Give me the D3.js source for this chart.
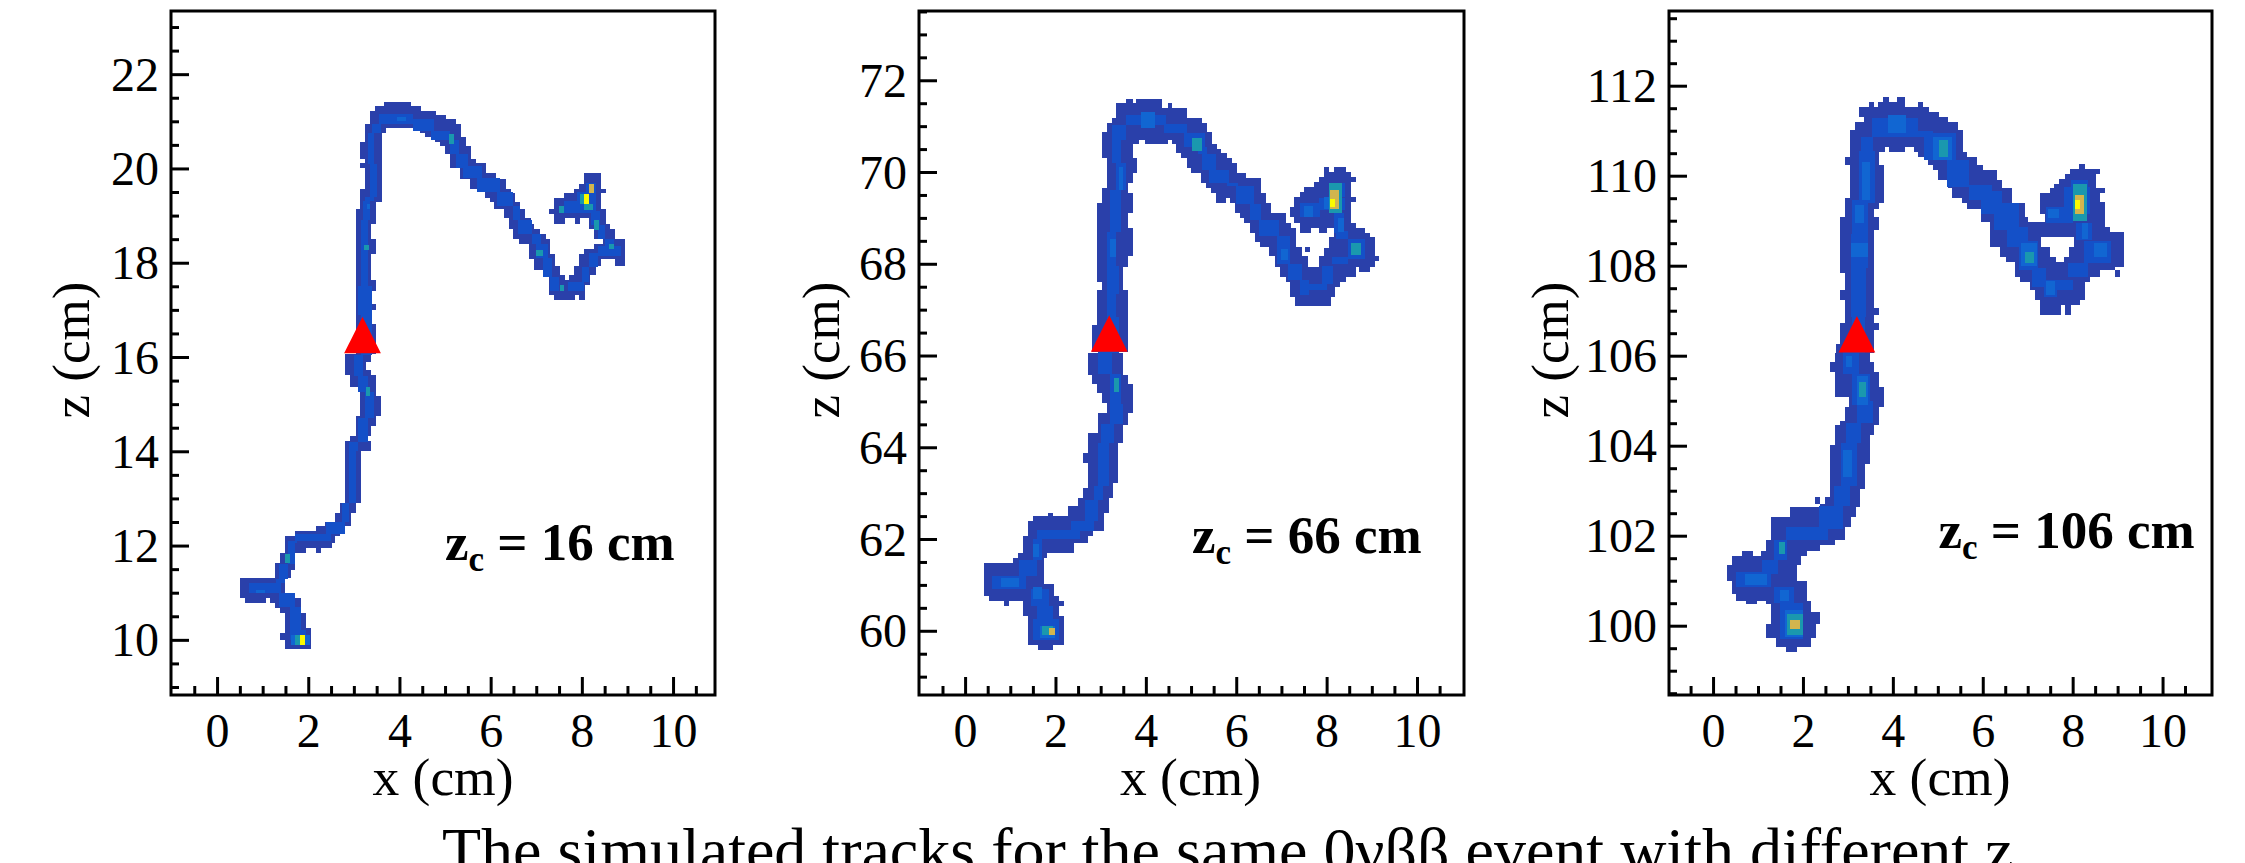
<!DOCTYPE html>
<html>
<head>
<meta charset="utf-8">
<title>Simulated tracks</title>
<script src="https://cdn.jsdelivr.net/npm/d3@7"></script>
<style>
	html, body { margin: 0; padding: 0; background: #fff; overflow: hidden; }
	svg { display: block; }
	text { font-family: "Liberation Serif", serif; fill: #000; }
	.domain { display: none; }
	.tick line { stroke: #000; stroke-width: 3; }
</style>
</head>
<body>
<svg id="chart" width="2245" height="863"></svg>
<script>
'use strict';

//Tick values on the x axis, shared by all panels
var xMajor = [0, 2, 4, 6, 8, 10];
var xMinor = [-0.5, 0.5, 1, 1.5, 2.5, 3, 3.5, 4.5, 5, 5.5, 6.5, 7, 7.5, 8.5, 9, 9.5, 10.5];

//Tick values on the z axis of each panel
var zMajor16 = [10, 12, 14, 16, 18, 20, 22];
var zMajor66 = [60, 62, 64, 66, 68, 70, 72];
var zMajor106 = [100, 102, 104, 106, 108, 110, 112];

//Axis ranges
var xRange16 = [-1.01, 10.92];
var xRange66 = [-1.02, 11.04];
var xRange106 = [-0.98, 11.1];
var zRange16 = [8.83, 23.34];
var zRange66 = [58.6, 73.51];
var zRange106 = [98.46, 113.66];

//Labels
var zcLabels = ['16', '66', '106'];
var caption = 'The simulated tracks for the same 0νββ event with different z';

//Position of the red triangle in each panel (x, z at the base)
var vertex16 = [3.19, 16.08];
var vertex66 = [3.19, 66.08];
var vertex106 = [3.2, 106.07];

//Track cells: [zTop, zBottom, xLeft, xRight], lowest charge
var low16 = [
	[21.41,21.32,3.67,4.25],[21.32,21.22,3.46,4.47],[21.22,21.13,3.36,4.80],[21.13,21.04,3.36,5.02],
	[21.04,20.95,3.36,5.24],[20.95,20.86,3.25,5.34],[20.86,20.76,3.25,3.71],[20.86,20.76,4.45,5.34],
	[20.76,20.67,3.25,3.61],[20.76,20.67,4.56,5.34],[20.67,20.56,3.25,3.61],[20.67,20.56,4.78,5.45],
	[20.56,20.47,3.14,3.61],[20.56,20.47,4.89,5.45],[20.47,20.30,3.14,3.61],[20.47,20.30,4.99,5.56],
	[20.30,20.21,3.14,3.61],[20.30,20.21,5.10,5.56],[20.21,20.12,3.25,3.61],[20.21,20.12,5.10,5.68],
	[20.12,20.00,3.14,3.61],[20.12,20.00,5.10,5.90],[20.00,19.91,3.25,3.61],[20.00,19.91,5.33,5.90],
	[19.91,19.78,3.25,3.61],[19.91,19.78,5.33,6.12],[19.78,19.57,3.25,3.61],[19.78,19.57,5.54,6.33],
	[19.57,19.48,3.14,3.61],[19.57,19.48,5.87,6.44],[19.48,19.29,3.14,3.61],[19.48,19.38,5.87,6.54],
	[19.38,19.29,5.98,6.54],[19.29,19.15,3.14,3.48],[19.29,19.15,6.08,6.65],[19.15,18.94,3.04,3.48],
	[19.15,18.94,6.29,6.75],[18.94,18.83,3.04,3.48],[18.94,18.83,6.40,6.88],[18.83,18.72,3.04,3.38],
	[18.83,18.72,6.40,6.96],[18.72,18.62,3.04,3.38],[18.72,18.62,6.50,7.09],[18.62,18.51,3.04,3.38],
	[18.62,18.51,6.50,7.21],[18.51,18.40,3.04,3.48],[18.51,18.40,6.63,7.30],[18.40,18.19,3.04,3.48],
	[18.40,18.19,6.84,7.30],[18.19,17.63,3.04,3.38],[18.19,18.07,6.84,7.41],[18.07,17.94,6.96,7.41],
	[17.94,17.84,6.96,7.51],[17.84,17.73,7.17,7.51],[17.73,17.63,7.29,7.63],
	[19.91,19.68,8.05,8.41],[19.68,19.57,7.94,8.41],[19.57,19.48,7.83,8.52],[19.48,19.38,7.61,8.41],
	[19.38,19.15,7.40,8.41],[19.15,19.04,7.29,8.52],[19.04,18.94,7.40,8.52],[18.94,18.83,7.40,7.63],
	[18.94,18.83,7.84,7.97],[18.94,18.83,8.16,8.52],[18.83,18.72,8.16,8.62],[18.72,18.51,8.26,8.72],
	[18.51,18.40,8.47,8.95],[18.40,18.30,8.26,8.95],[18.30,18.19,8.05,8.95],[18.19,18.07,7.94,8.95],
	[18.07,17.94,7.94,8.41],[18.07,17.94,8.72,8.95],[17.94,17.73,7.83,8.31],[17.73,17.63,7.72,8.18],
	[17.63,17.52,7.29,8.18],[17.52,17.31,7.29,8.07],[17.31,17.20,7.40,7.84],[17.31,17.20,7.94,8.07],
	[17.63,17.41,3.04,3.48],[17.41,17.13,3.04,3.38],[17.13,16.99,3.04,3.48],[16.99,16.71,3.04,3.38],
	[16.71,16.07,3.04,3.48],[16.07,15.89,2.81,3.38],[15.89,15.72,2.81,3.27],[15.72,15.61,2.81,3.38],
	[15.61,15.36,2.92,3.48],[15.36,15.18,3.14,3.48],[15.18,14.83,3.14,3.59],[14.83,14.74,3.14,3.59],
	[14.74,14.53,3.04,3.48],[14.53,14.32,3.04,3.38],[14.32,14.21,2.92,3.27],[14.21,14.00,2.81,3.38],
	[14.00,12.90,2.81,3.16],[12.90,12.69,2.70,3.04],[12.69,12.51,2.59,2.94],[12.51,12.41,2.37,2.94],
	[12.41,12.30,2.16,2.81],[12.30,12.20,1.72,2.70],[12.20,12.05,1.50,2.59],[12.05,11.95,1.50,2.51],
	[11.95,11.84,1.50,1.95],[11.95,11.84,2.16,2.27],[11.84,11.63,1.38,1.72],[11.63,11.49,1.28,1.72],
	[11.49,11.31,1.28,1.62],[11.31,10.99,0.51,1.50],[10.99,10.89,0.51,1.62],[10.89,10.78,0.62,1.07],
	[10.89,10.78,1.17,1.85],[10.78,10.67,1.28,1.85],[10.67,10.57,1.38,1.85],[10.57,10.25,1.50,1.95],
	[10.25,10.14,1.50,2.06],[10.14,10.00,1.38,2.06],[10.00,9.80,1.50,2.06]
];
var low66 = [
	[71.60,71.50,3.57,3.72],[71.60,71.50,3.79,4.36],[71.50,71.39,3.35,4.36],[71.50,71.39,4.49,4.57],
	[71.39,71.17,3.35,4.91],[71.17,71.06,3.24,5.25],[71.06,70.88,3.13,5.36],[70.88,70.70,3.02,5.46],
	[70.70,70.60,3.02,3.85],[70.70,70.60,3.98,4.49],[70.70,70.60,4.57,5.46],[70.60,70.50,3.02,3.71],
	[70.60,70.50,4.67,5.57],[70.50,70.41,3.02,3.71],[70.50,70.41,4.67,5.67],[70.41,70.30,3.02,3.71],
	[70.41,70.30,4.78,5.80],[70.30,70.19,3.13,3.81],[70.30,70.19,4.91,5.91],[70.19,70.08,3.13,3.81],
	[70.19,70.08,4.91,6.01],[70.08,69.97,3.13,3.81],[70.08,69.97,5.00,6.01],[69.97,69.86,3.13,3.71],
	[69.97,69.86,5.21,6.22],[69.86,69.75,3.13,3.71],[69.86,69.75,5.21,6.55],[69.75,69.65,3.13,3.61],
	[69.75,69.65,5.34,6.55],[69.65,69.54,3.02,3.61],[69.65,69.54,5.44,6.55],[69.54,69.43,3.02,3.71],
	[69.54,69.43,5.55,6.65],[69.43,69.32,3.02,3.71],[69.43,69.32,5.55,5.77],[69.43,69.32,5.87,6.65],
	[69.32,69.10,2.92,3.71],[69.32,69.10,5.97,6.76],[69.10,68.99,2.92,3.61],[69.10,68.99,6.08,7.10],
	[68.99,68.88,2.92,3.61],[68.99,68.88,6.18,7.10],[68.88,68.77,2.92,3.61],[68.88,68.77,6.31,7.21],
	[68.77,68.66,2.92,3.71],[68.77,68.66,6.31,7.32],[68.66,68.48,2.92,3.71],[68.66,68.48,6.42,7.32],
	[68.48,68.37,2.92,3.71],[68.48,68.37,6.52,7.32],[68.37,68.16,2.92,3.71],[68.37,68.16,6.73,7.45],
	[68.16,67.94,2.92,3.61],[68.16,67.94,6.86,7.58],
	[70.10,70.00,7.94,8.06],[70.10,70.00,8.17,8.42],[70.00,69.89,7.94,8.54],[69.89,69.78,7.83,8.64],
	[69.78,69.67,7.71,8.54],[69.67,69.56,7.50,8.54],[69.56,69.45,7.40,8.54],[69.45,69.34,7.28,8.64],
	[69.34,69.23,7.28,8.54],[69.23,69.01,7.18,8.54],[69.01,68.88,7.28,8.54],[68.88,68.77,7.40,8.64],
	[68.77,68.68,7.40,7.65],[68.77,68.68,7.83,8.00],[68.77,68.68,8.17,8.85],[68.68,68.59,8.17,8.96],
	[68.59,68.34,8.06,9.06],[68.34,68.16,7.94,9.06],[68.16,68.05,7.83,9.17],[68.05,67.94,7.83,9.06],
	[68.37,68.26,7.52,7.64],[67.94,67.83,6.97,8.64],[67.94,67.83,8.72,8.96],[67.83,67.72,6.97,8.64],
	[67.72,67.61,7.10,8.42],[67.61,67.50,7.20,8.30],[67.50,67.28,7.20,8.19],[67.28,67.07,7.30,8.09],
	[67.94,67.61,2.92,3.50],[67.61,67.43,3.02,3.50],[67.43,67.10,2.92,3.61],[67.10,66.67,2.92,3.61],
	[66.67,66.08,2.81,3.61],[66.05,65.58,2.71,3.50],[65.58,65.39,2.81,3.61],[65.39,65.18,2.92,3.71],
	[65.18,64.96,3.02,3.71],[64.96,64.75,3.15,3.71],[64.75,64.49,2.93,3.61],[64.49,64.31,2.93,3.50],
	[64.31,64.09,2.71,3.50],[64.09,63.88,2.71,3.39],[63.88,63.66,2.60,3.39],[63.66,63.22,2.71,3.39],
	[63.22,63.11,2.71,3.28],[63.11,62.90,2.60,3.28],[62.90,62.71,2.49,3.18],[62.71,62.57,2.27,3.18],
	[62.57,62.50,1.83,1.95],[62.57,62.50,2.27,3.07],[62.50,62.39,1.50,3.07],[62.39,62.17,1.39,3.07],
	[62.17,62.06,1.39,2.84],[62.06,61.91,1.28,2.73],[61.91,61.70,1.28,2.41],[61.70,61.59,1.17,1.82],
	[61.59,61.48,1.06,1.74],[61.48,61.01,0.41,1.74],[61.01,60.75,0.41,1.96],[60.75,60.64,0.52,2.07],
	[60.64,60.53,0.85,0.97],[60.64,60.53,1.28,2.18],[60.53,60.32,1.28,2.07],[60.32,59.70,1.39,2.18],
	[59.70,59.59,1.61,1.95]
];
var low106 = [
	[111.76,111.64,3.79,3.91],[111.76,111.64,4.10,4.26],[111.64,111.53,3.46,3.59],[111.64,111.53,3.68,4.26],
	[111.64,111.53,4.55,4.68],[111.53,111.42,3.25,4.81],[111.42,111.31,3.25,5.02],[111.31,111.20,3.36,5.23],
	[111.20,111.01,3.15,5.45],[111.01,110.64,3.04,5.56],[110.64,110.53,3.04,3.83],[110.64,110.53,3.92,4.26],
	[110.64,110.53,4.47,5.56],[110.53,110.42,3.04,3.70],[110.53,110.42,4.55,5.66],[110.42,110.24,2.94,3.70],
	[110.42,110.24,4.78,5.87],[110.24,110.13,3.04,3.81],[110.24,110.13,4.89,6.00],[110.13,109.90,3.04,3.81],
	[110.13,109.90,5.00,6.31],[109.90,109.72,3.04,3.81],[109.90,109.72,5.22,6.43],[109.72,109.50,3.04,3.81],
	[109.72,109.50,5.32,6.64],[109.50,109.39,2.94,3.81],[109.50,109.39,5.53,6.64],[109.39,109.27,2.94,3.70],
	[109.39,109.27,5.64,6.94],[109.27,109.09,2.94,3.59],[109.27,109.09,5.97,6.94],[109.09,108.98,5.97,7.00],
	[110.25,110.15,8.15,8.27],[110.15,110.04,7.93,8.60],[110.04,109.93,7.83,8.51],[109.93,109.81,7.70,8.51],
	[109.81,109.72,7.59,8.51],[109.72,109.61,7.49,8.72],[109.61,109.41,7.28,8.60],[109.41,109.16,7.28,8.72],
	[109.16,108.98,7.39,8.72],[108.98,108.87,6.17,8.72],[108.87,108.76,6.17,8.83],[108.76,108.64,6.17,9.15],
	[108.64,108.42,6.17,7.30],[108.64,108.42,8.04,9.15],[108.42,108.20,6.38,7.49],[108.42,108.20,7.91,9.15],
	[108.20,108.09,6.51,7.62],[108.20,108.09,7.81,9.15],[108.09,107.98,6.72,9.15],[107.98,107.90,6.72,8.94],
	[107.90,107.76,6.72,8.60],[107.90,107.76,8.94,9.05],[107.76,107.64,6.83,8.38],[107.64,107.46,7.06,8.27],
	[107.46,107.24,7.17,8.27],[107.24,107.13,7.28,8.17],[107.13,106.90,7.28,7.74],[107.13,106.90,7.83,7.96],
	[109.09,108.79,2.83,3.70],[108.79,107.83,2.83,3.59],[107.83,107.46,2.94,3.59],[107.46,107.24,2.83,3.59],
	[107.24,107.05,2.94,3.59],[107.05,106.90,2.94,3.70],[106.90,106.72,2.94,3.59],[106.72,106.57,2.83,3.70],
	[106.57,106.27,2.83,3.59],[106.27,106.07,2.73,3.59],[106.07,105.87,2.71,3.49],[105.87,105.64,2.60,3.59],
	[105.64,105.31,2.71,3.70],[105.31,105.09,2.71,3.81],[105.09,104.86,3.02,3.81],[104.86,104.56,2.94,3.70],
	[104.56,104.45,2.83,3.70],[104.45,104.23,2.71,3.59],[104.23,104.01,2.71,3.49],[104.01,103.60,2.60,3.49],
	[103.60,103.04,2.60,3.38],[103.04,102.86,2.60,3.28],[102.86,102.71,2.27,2.38],[102.86,102.71,2.49,3.28],
	[102.71,102.64,2.38,3.28],[102.64,102.41,1.72,3.17],[102.41,102.19,1.28,3.06],[102.19,101.90,1.28,2.94],
	[101.90,101.79,1.17,2.72],[101.79,101.67,1.17,2.38],[101.67,101.56,0.64,0.89],[101.67,101.56,1.06,2.09],
	[101.56,101.34,0.43,1.96],[101.34,101.00,0.32,1.86],[101.00,100.71,0.43,2.09],[100.71,100.56,0.51,2.09],
	[100.56,100.49,0.74,0.98],[100.56,100.49,1.17,2.19],[100.49,100.30,1.28,2.19],[100.30,100.04,1.28,2.38],
	[100.04,99.73,1.17,2.30],[99.73,99.53,1.40,2.19],[99.53,99.41,1.62,1.86]
];

//Track cells of the brighter core: [zTop, zBottom, xLeft, xRight]
var mid16 = [
	[21.15,20.95,3.55,4.30],[21.05,20.80,4.30,4.75],[20.95,20.75,3.40,3.60],[20.75,20.40,3.30,3.45],[20.40,20.10,3.30,3.45],
	[20.10,19.40,3.35,3.50],[19.40,19.30,3.25,3.45],[19.30,18.90,3.20,3.35],[18.90,17.50,3.15,3.30],
	[17.50,16.90,3.10,3.40],[16.90,16.05,3.15,3.40],[16.05,15.60,3.00,3.20],[15.60,15.25,3.10,3.30],
	[15.25,14.70,3.25,3.45],[14.70,14.20,3.10,3.30],[14.20,14.00,2.90,3.10],[14.00,12.90,2.90,3.05],
	[12.90,12.50,2.75,2.90],[12.50,12.25,2.40,2.80],[12.25,12.10,1.70,2.50],[12.10,12.05,1.55,1.75],
	[12.05,11.60,1.55,1.70],[11.60,11.30,1.35,1.55],[11.30,11.20,1.30,1.50],[11.20,11.00,0.70,1.40],
	[11.00,10.70,1.35,1.70],[10.70,10.20,1.60,1.85],[10.20,10.00,1.60,1.95],
	[20.80,20.60,4.70,5.10],[20.60,20.30,5.10,5.30],[20.30,20.00,5.25,5.50],[20.05,19.80,5.40,5.80],
	[19.80,19.50,5.70,6.20],[19.50,19.20,6.15,6.50],[19.20,18.90,6.50,6.65],[18.90,18.60,6.60,6.90],
	[18.60,18.40,6.90,7.10],[18.40,18.10,7.00,7.25],[18.10,17.70,7.15,7.35],[17.70,17.40,7.30,7.50],
	[17.60,17.40,7.70,8.05],[17.90,17.60,8.00,8.15],[18.20,17.90,8.15,8.35],[18.35,18.15,8.35,8.85],
	[18.50,18.30,8.50,8.70],[18.80,18.50,8.35,8.50],[19.10,18.80,8.20,8.40],[19.30,19.05,7.60,8.30],
	[19.50,19.30,7.90,8.30],[19.70,19.50,8.10,8.30]
];
var mid66 = [
	[71.24,71.03,3.56,4.45],[71.05,70.85,4.40,4.90],[71.03,70.70,3.25,3.55],[70.70,70.20,3.25,3.45],[70.20,69.60,3.35,3.55],
	[69.60,68.70,3.20,3.45],[68.70,67.95,3.15,3.35],[67.95,67.35,3.15,3.40],[67.35,66.85,3.15,3.35],
	[66.85,66.05,3.15,3.40],[66.10,65.60,2.95,3.25],[65.60,64.95,3.20,3.45],[64.95,64.50,3.20,3.50],
	[64.50,64.10,3.00,3.30],[64.10,63.15,2.95,3.18],[63.15,62.85,2.85,3.05],[62.85,62.40,2.65,2.95],
	[62.40,62.17,2.35,2.85],[62.20,62.00,1.60,2.55],[62.00,61.55,1.50,1.70],[61.55,61.20,1.20,1.60],
	[61.20,60.90,0.60,1.35],[60.90,60.55,1.45,1.85],[60.55,60.25,1.60,1.95],[60.25,59.80,1.50,2.07],
	[70.85,70.55,4.85,5.30],[70.55,70.40,5.15,5.35],[70.40,70.05,5.25,5.55],[70.05,69.75,5.40,5.85],
	[69.75,69.70,5.80,6.05],[69.70,69.30,6.00,6.40],[69.30,68.95,6.30,6.55],[68.95,68.60,6.50,6.95],
	[68.60,68.00,6.90,7.20],[68.00,67.65,7.15,7.45],[67.65,67.32,7.40,7.62],[67.55,67.42,7.62,8.00],
	[67.95,67.55,7.90,8.15],[68.15,68.00,8.13,8.47],[68.55,68.10,8.47,8.85],[68.72,68.55,8.20,8.47],
	[69.10,68.67,8.17,8.38],[69.43,69.17,7.83,8.40],[69.32,69.03,7.40,7.85],[69.75,69.45,8.05,8.40]
];
var mid106 = [
	[111.28,110.87,3.53,4.55],[111.00,110.85,4.50,4.90],[110.87,110.55,3.30,3.55],[110.55,109.40,3.25,3.60],[109.45,108.70,3.10,3.45],
	[108.70,107.95,3.07,3.45],[107.95,106.85,3.07,3.40],[106.85,106.05,3.10,3.38],[106.10,105.60,2.90,3.25],
	[105.60,104.90,3.10,3.50],[105.00,104.50,3.20,3.55],[104.50,104.05,2.95,3.30],[104.05,103.10,2.85,3.20],
	[103.10,102.65,2.70,3.05],[102.65,102.15,2.35,2.90],[102.20,101.90,1.62,2.55],[101.90,101.45,1.35,1.65],
	[101.45,101.15,1.10,1.45],[101.20,100.85,0.50,1.30],[100.85,100.50,1.35,1.80],[100.50,99.70,1.50,2.00],
	[110.95,110.35,4.70,5.40],[110.35,109.75,5.20,5.70],[109.80,109.45,5.70,6.20],[109.65,109.16,5.96,6.43],
	[109.39,108.80,6.25,6.80],[108.87,108.42,6.55,7.00],[108.55,107.90,6.80,7.23],[107.95,107.53,7.10,7.40],
	[107.68,107.30,7.36,7.66],[107.68,107.46,7.66,8.00],[108.05,107.76,7.90,8.34],[108.55,108.05,8.25,8.85],
	[108.95,108.57,8.08,8.42],[109.30,108.95,7.40,8.00],[109.75,109.16,7.80,8.38],[109.90,109.60,7.96,8.34]
];

//Hot cells: [zTop, zBottom, xLeft, xRight, level]
var hot16 = [
	[19.45,19.25,7.95,8.05,3],[19.25,19.12,8.05,8.25,3],[19.67,19.47,8.16,8.27,4],[19.45,19.25,8.05,8.16,5],
	[19.20,19.05,7.50,7.60,3],[18.90,18.70,8.26,8.37,3],[18.40,18.30,8.60,8.70,3],[18.27,18.15,7.00,7.15,3],
	[17.52,17.41,7.52,7.60,3],[20.73,20.52,5.08,5.20,3],[15.36,15.18,3.27,3.36,3],[18.37,18.26,3.23,3.33,3],
	[19.24,19.15,3.28,3.36,2],[21.10,21.00,3.95,4.15,2],[11.83,11.63,1.50,1.60,3],[11.06,10.99,0.85,1.05,2],
	[10.10,9.90,1.62,1.72,2],[10.10,9.90,1.72,1.82,3],[10.10,9.90,1.82,1.93,5],[10.10,9.90,1.93,2.03,2]
];
var hot66 = [
	[71.30,70.95,3.90,4.20,2],[70.10,69.60,3.40,3.50,2],[68.55,68.15,3.20,3.35,2],[65.50,65.20,3.30,3.40,3],
	[61.15,60.95,0.80,1.20,2],[60.95,60.70,1.50,1.70,2],[61.90,61.60,1.50,1.63,2],[60.10,59.85,1.65,2.00,2],
	[60.10,59.90,1.70,1.95,3],[60.07,59.90,1.85,1.98,4],[70.75,70.45,5.02,5.25,3],[68.33,68.08,7.00,7.15,2],
	[68.45,68.20,8.55,8.77,3],[69.00,68.70,8.25,8.38,2],[69.25,69.03,7.50,7.70,2],[69.45,69.20,7.95,8.07,2],
	[69.75,69.10,8.05,8.35,3],[69.60,69.20,8.07,8.27,4],[69.42,69.23,8.07,8.18,5]
];
var hot106 = [
	[111.35,110.95,3.90,4.30,2],[110.30,109.45,3.32,3.50,2],[109.35,108.95,3.15,3.35,2],[108.50,108.20,3.07,3.45,2],
	[106.00,105.75,2.95,3.10,2],[105.55,104.90,3.20,3.45,2],[105.42,105.09,3.25,3.40,3],[103.90,103.30,2.90,3.10,2],
	[101.85,101.60,1.47,1.60,3],[101.15,100.90,0.70,1.20,2],[100.80,100.55,1.50,1.70,2],[100.35,99.75,1.60,2.00,2],
	[100.25,99.80,1.65,2.00,3],[100.13,99.93,1.72,1.94,4],[110.87,110.35,4.90,5.32,2],[110.80,110.42,5.02,5.23,3],
	[108.50,108.00,6.85,7.20,2],[108.31,108.05,6.94,7.15,3],[107.65,107.35,7.40,7.60,2],[108.50,108.20,8.47,8.77,2],
	[108.95,108.60,8.20,8.35,2],[109.27,109.05,7.45,7.70,2],[109.81,109.00,8.00,8.33,3],[109.57,109.16,8.05,8.25,4],
	[109.46,109.27,8.05,8.17,5]
];

//Palette of the charge levels, dark to bright
var levelColors = ['#2a40aa', '#1450c8', '#1166d2', '#1a98ae', '#d2b54e', '#fbfb00'];

var svg = d3.select('#chart');

/**
 * Draw a single panel
 */
function drawPanel(opts) {
	var left = opts.box[0], right = opts.box[1], top = 11, bottom = 695;
	var x = d3.scaleLinear().domain(opts.xRange).range([left, right]);
	var y = d3.scaleLinear().domain(opts.zRange).range([bottom, top]);
	var g = svg.append('g');

	//Cells, low to high
	function addCells(cells, level) {
		g.append('g')
			.attr('shape-rendering', 'crispEdges')
			.selectAll('rect')
			.data(cells)
			.enter().append('rect')
				.attr('x', function(d) {return x(d[2]);})
				.attr('y', function(d) {return y(d[0]);})
				.attr('width', function(d) {return x(d[3]) - x(d[2]);})
				.attr('height', function(d) {return y(d[1]) - y(d[0]);})
				.attr('fill', function(d) {return levelColors[level === undefined ? d[4] : level];});
	}
	addCells(opts.low, 0);
	addCells(opts.mid, 1);
	addCells(opts.hot);

	//Red triangle, sits on its base point
	var bx = x(opts.vertex[0]), by = y(opts.vertex[1]);
	g.append('path')
		.attr('d', d3.line()([[bx - 18.4, by], [bx, by - 36.6], [bx + 18.4, by]]) + 'Z')
		.attr('fill', '#ff0000');

	//Minor ticks
	g.append('g')
		.attr('transform', 'translate(0,' + bottom + ')')
		.call(d3.axisBottom(x).tickValues(xMinor).tickSize(-9))
		.selectAll('text').remove();
	var zLo = Math.ceil(opts.zRange[0] * 2) / 2;
	var zMinor = d3.range(zLo, opts.zRange[1], 0.5).filter(function(v) {
		return opts.zMajor.indexOf(v) < 0;
	});
	g.append('g')
		.attr('transform', 'translate(' + left + ',0)')
		.call(d3.axisLeft(y).tickValues(zMinor).tickSize(-8))
		.selectAll('text').remove();

	//Major ticks
	var xAxis = g.append('g')
		.attr('transform', 'translate(0,' + bottom + ')')
		.call(d3.axisBottom(x).tickValues(xMajor).tickSize(-18));
	xAxis.selectAll('text')
		.attr('y', 52).attr('dy', 0)
		.style('font-size', '48px');
	var zAxis = g.append('g')
		.attr('transform', 'translate(' + left + ',0)')
		.call(d3.axisLeft(y).tickValues(opts.zMajor).tickSize(-18));
	zAxis.selectAll('text')
		.attr('x', -12).attr('dy', 16)
		.style('font-size', '48px');

	//Frame
	g.append('rect')
		.attr('x', left).attr('y', top)
		.attr('width', right - left).attr('height', bottom - top)
		.attr('fill', 'none').attr('stroke', '#000').attr('stroke-width', 3);

	//Axis titles
	g.append('text')
		.attr('x', opts.xTitle).attr('y', 795)
		.attr('text-anchor', 'middle')
		.style('font-size', '53.5px')
		.text('x (cm)');
	g.append('text')
		.attr('transform', 'translate(' + opts.zTitle + ',350) rotate(-90)')
		.attr('text-anchor', 'middle')
		.style('font-size', '53px')
		.text('z (cm)');

	//zc annotation
	var note = g.append('text')
		.attr('x', opts.note[0]).attr('y', opts.note[1])
		.style('font-size', '53px').style('font-weight', 'bold');
	note.append('tspan').text('z');
	note.append('tspan').attr('dy', 11).style('font-size', '35px').text('c');
	note.append('tspan').attr('dy', -11).text(' = ' + opts.label + ' cm');
}

drawPanel({box: [171, 715], xRange: xRange16, zRange: zRange16, zMajor: zMajor16,
	low: low16, mid: mid16, hot: hot16, vertex: vertex16, label: zcLabels[0],
	xTitle: 443, zTitle: 89, note: [445, 560]});
drawPanel({box: [919, 1464], xRange: xRange66, zRange: zRange66, zMajor: zMajor66,
	low: low66, mid: mid66, hot: hot66, vertex: vertex66, label: zcLabels[1],
	xTitle: 1190.5, zTitle: 839, note: [1192, 553]});
drawPanel({box: [1669, 2212], xRange: xRange106, zRange: zRange106, zMajor: zMajor106,
	low: low106, mid: mid106, hot: hot106, vertex: vertex106, label: zcLabels[2],
	xTitle: 1940, zTitle: 1568, note: [1938.5, 548]});

//Caption, runs off the bottom of the picture as it does in the source
svg.append('text')
	.attr('x', 442).attr('y', 872)
	.style('font-size', '64px')
	.text(caption);
</script>
</body>
</html>
